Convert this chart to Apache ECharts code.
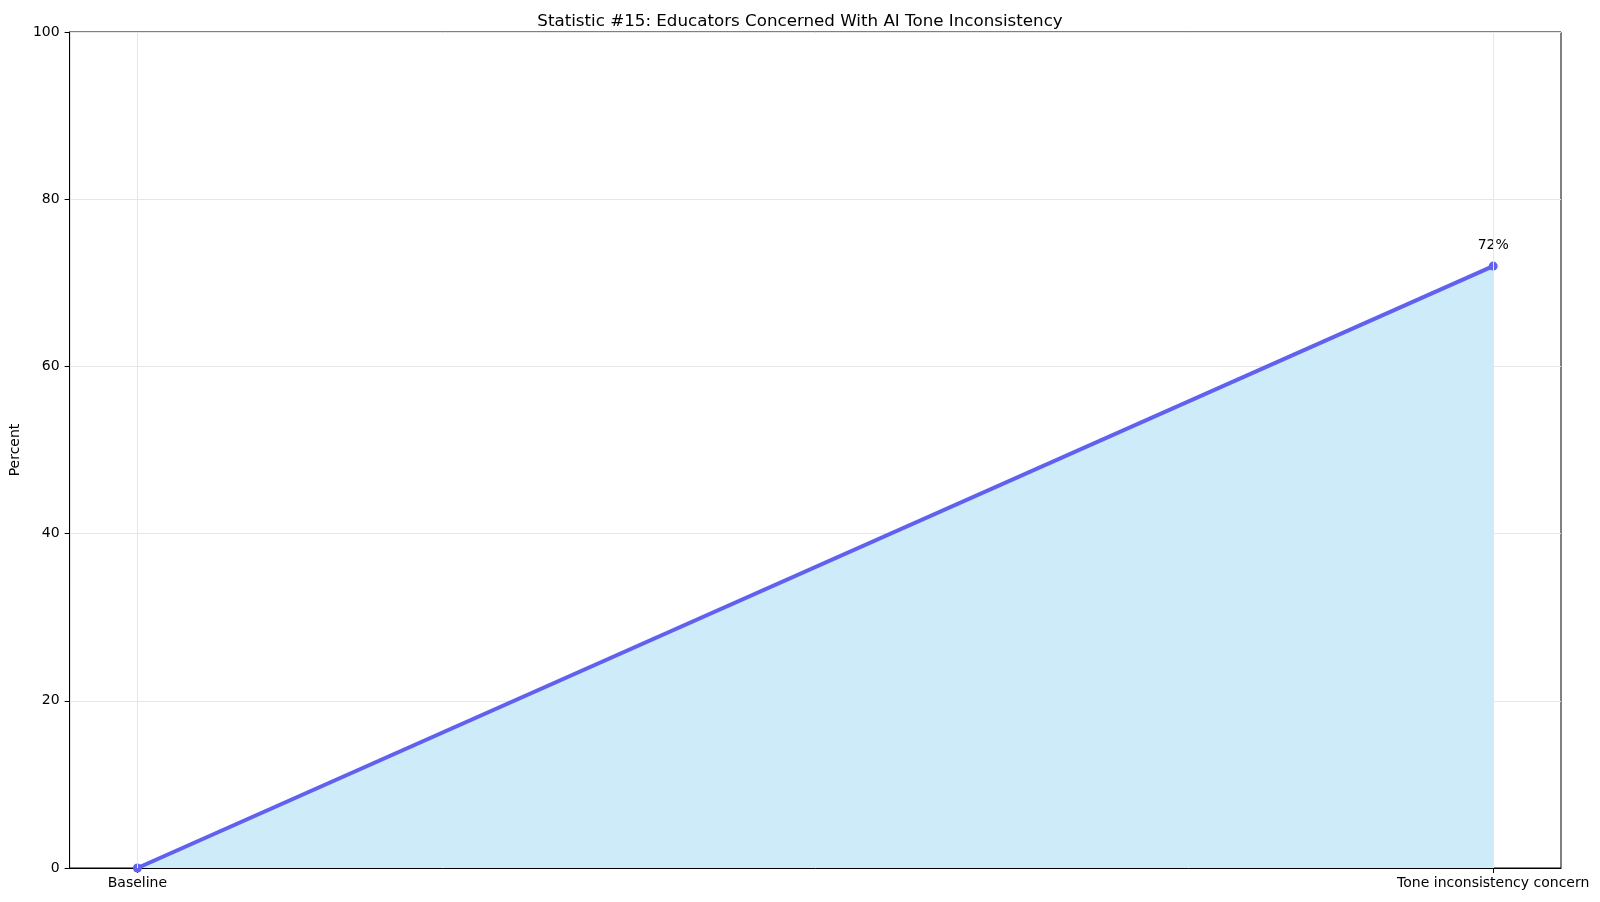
<!DOCTYPE html>
<html>
<head>
<meta charset="utf-8">
<script src="https://cdn.jsdelivr.net/npm/echarts@6/dist/echarts.min.js"></script>
<style>
  html, body { margin: 0; padding: 0; background: #fff; }
  #chart { width: 1600px; height: 902px; }
</style>
</head>
<body>
<div id="chart"></div>
<script>
var categories = ['Baseline', 'Tone inconsistency concern'];
var percentValues = [0, 72];
var yTicks = [0, 20, 40, 60, 80, 100];

var font = 'DejaVu Sans';
var lineColor = '#6161f0';

// x positions are category indexes, padded like matplotlib's margins
var points = percentValues.map(function (v, i) {
    return [i, v];
});
var catIdx = categories.map(function (c, i) { return i; });

var myChart = echarts.init(document.getElementById('chart'));
var option = {
    animation: false,
    title: {
        text: 'Statistic #15: Educators Concerned With AI Tone Inconsistency',
        left: 'center',
        top: 8,
        textStyle: { fontFamily: font, fontSize: 16.7, fontWeight: 'normal', color: '#000' }
    },
    grid: {
        left: 66, right: 39, top: 32, bottom: 34,
        show: true, borderColor: '#000', borderWidth: 1, backgroundColor: 'transparent'
    },
    xAxis: {
        type: 'value',
        min: -0.05,
        max: categories.length - 1 + 0.05,
        axisLine: { show: true, onZero: false, lineStyle: { color: '#000' } },
        axisTick: { show: true, length: 5, customValues: catIdx, lineStyle: { color: '#000' } },
        axisLabel: {
            customValues: catIdx,
            fontFamily: font, fontSize: 14, color: '#000', margin: 8,
            formatter: function (v) { return categories[Math.round(v)]; }
        },
        splitLine: { show: false }
    },
    yAxis: {
        type: 'value',
        min: 0, max: 100, interval: 20,
        name: 'Percent',
        nameLocation: 'middle',
        nameGap: 43,
        nameTextStyle: { fontFamily: font, fontSize: 14, color: '#000' },
        axisLine: { show: true, onZero: false, lineStyle: { color: '#000' } },
        axisTick: { show: true, length: 5, customValues: yTicks, lineStyle: { color: '#000' } },
        axisLabel: {
            fontFamily: font, fontSize: 14, color: '#000', margin: 10,
            customValues: yTicks
        },
        splitLine: { show: true, lineStyle: { color: '#e6e6e6', width: 1 } }
    },
    series: [{
        type: 'line',
        data: points,
        symbol: 'circle',
        symbolSize: 9,
        lineStyle: { color: lineColor, width: 4 },
        itemStyle: { color: lineColor },
        areaStyle: { color: '#cdebf8', opacity: 1, origin: 'start' },
        label: {
            show: true,
            position: 'top',
            distance: 9,
            fontFamily: font, fontSize: 14, color: '#000',
            formatter: function (p) {
                return p.dataIndex === 0 ? '' : p.value[1] + '%';
            }
        },
        markLine: {
            silent: true,
            symbol: 'none',
            label: { show: false },
            lineStyle: { color: '#e6e6e6', width: 1, type: 'solid' },
            data: catIdx.map(function (i) { return { xAxis: i }; })
        },
        z: 3
    }]
};
myChart.setOption(option);
</script>
</body>
</html>
